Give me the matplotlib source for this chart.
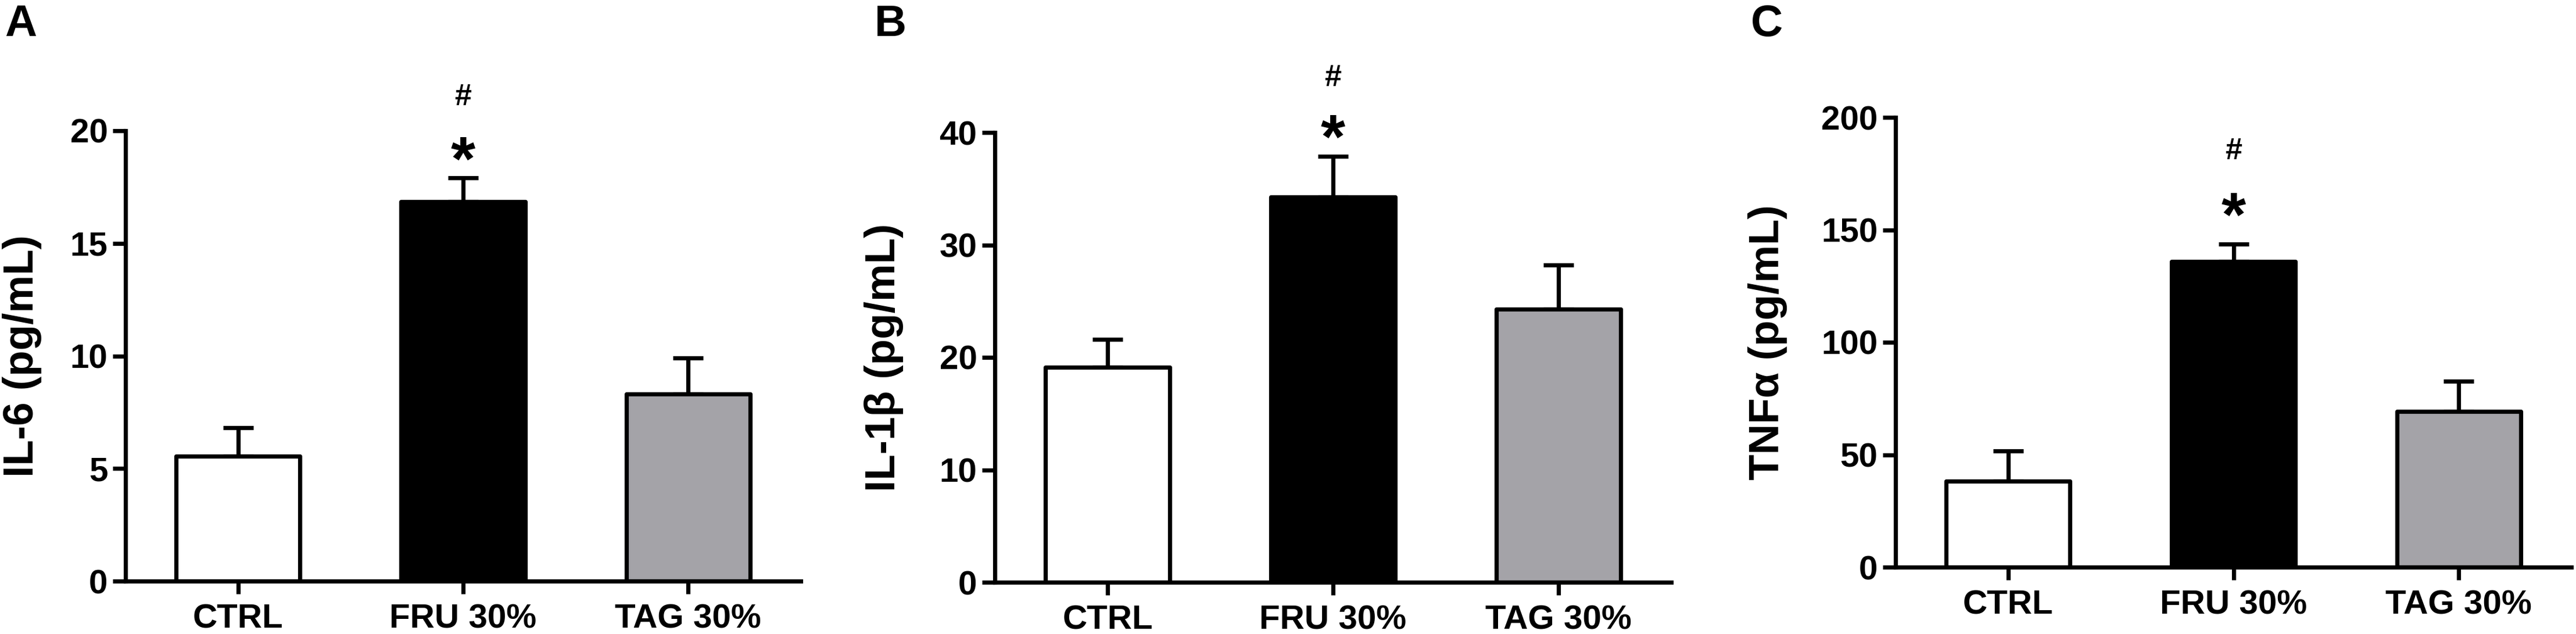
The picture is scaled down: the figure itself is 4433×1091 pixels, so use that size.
import numpy as np
import matplotlib
matplotlib.use("Agg")
import matplotlib.pyplot as plt

plt.rcParams['font.family'] = ['Liberation Sans', 'DejaVu Sans']
plt.rcParams['font.weight'] = 'bold'

groups = ["CTRL", "FRU 30%", "TAG 30%"]
bar_colors = ["white", "black", "#a4a3a8"]

# mean and SEM
il6_mean = [5.55, 16.85, 8.3]
il6_sem = [1.27, 1.07, 1.61]
il1b_mean = [19.1, 34.25, 24.3]
il1b_sem = [2.5, 3.65, 3.9]
tnfa_mean = [38.2, 135.8, 69.2]
tnfa_sem = [13.5, 7.9, 13.5]

panel_letters = ["A", "B", "C"]
ylabels = ["IL-6 (pg/mL)", "IL-1\u03b2 (pg/mL)", "TNF\u03b1 (pg/mL)"]
ymax = [20, 40, 200]
ystep = [5, 10, 50]
means = [il6_mean, il1b_mean, tnfa_mean]
sems = [il6_sem, il1b_sem, tnfa_sem]
sig_group = 1  # FRU 30% carries * and #

W, H = 4433, 1091
fig = plt.figure(figsize=(W / 100, H / 100), dpi=100)

# axes boxes in pixels: left, right, bottom, top
boxes = [(216, 1378, 1000, 225), (1712, 2876, 1002, 228), (3262, 4425, 976, 202)]
ylabel_x = [72, 1555, 3076]
letter_x = [8, 1505, 3013]
# pixel offsets above the error cap for * and # baselines
star_off = [-4, -3, 14]
hash_off = [125, 121, 146]

lw = 5.2
for i in range(3):
    l, r, b, t = boxes[i]
    ax = fig.add_axes([l / W, 1 - b / H, (r - l) / W, (b - t) / H])
    x = np.arange(len(groups))
    m = np.array(means[i])
    s = np.array(sems[i])
    ax.errorbar(x, m, yerr=[np.zeros_like(s), s], fmt='none', ecolor='black',
                elinewidth=lw, capsize=18.5, capthick=lw, zorder=1)
    ax.bar(x, m, width=0.55, color=bar_colors, edgecolor='black',
           linewidth=lw, joinstyle='round', zorder=2)

    ax.set_xlim(-0.5, 2.5)
    ax.set_ylim(0, ymax[i])
    ax.set_yticks(np.arange(0, ymax[i] + 1, ystep[i]))
    ax.set_xticks(x)
    ax.set_xticklabels(groups)
    for side in ["top", "right"]:
        ax.spines[side].set_visible(False)
    for side in ["left", "bottom"]:
        ax.spines[side].set_linewidth(lw)
        ax.spines[side].set_zorder(3)
    ax.tick_params(axis='both', length=15.5, width=lw, labelsize=42)
    ax.tick_params(axis='x', pad=12)
    ax.tick_params(axis='y', pad=6.5)
    for lab in ax.get_xticklabels() + ax.get_yticklabels():
        lab.set_fontweight('bold')

    ax.set_ylabel(ylabels[i], fontsize=52.5, fontweight='bold')
    ax.yaxis.set_label_coords((ylabel_x[i] - l) / (r - l), 0.5)

    top = m[sig_group] + s[sig_group]
    ax.annotate("*", (x[sig_group], top), xytext=(0, star_off[i]),
                textcoords='offset pixels', ha='center', va='baseline',
                fontsize=78, fontweight='bold')
    ax.annotate("#", (x[sig_group], top), xytext=(0, hash_off[i]),
                textcoords='offset pixels', ha='center', va='baseline',
                fontsize=37.5, fontweight='bold')

    fig.text(letter_x[i] / W, 1 - 7 / H, panel_letters[i], ha='left', va='top',
             fontsize=55, fontweight='bold')

fig.savefig("out.png", dpi=100)
